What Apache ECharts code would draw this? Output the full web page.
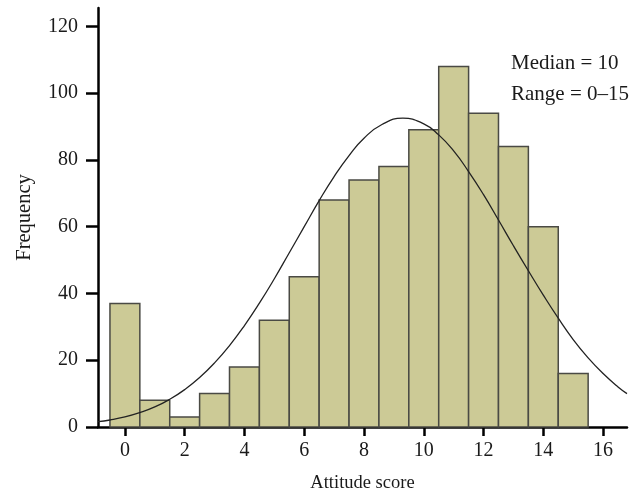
<!DOCTYPE html>
<html>
<head>
<meta charset="utf-8">
<script src="https://cdn.jsdelivr.net/npm/echarts@6/dist/echarts.min.js"></script>
<style>html,body{margin:0;padding:0;background:#fff}#c{width:640px;height:494px}</style>
</head>
<body>
<div id="c"></div>
<script>
// Histogram bins (attitude score) and frequencies
const scores = [0, 1, 2, 3, 4, 5, 6, 7, 8, 9, 10, 11, 12, 13, 14, 15];
const frequencies = [37, 8, 3, 10, 18, 32, 45, 68, 74, 78, 89, 108, 94, 84, 60, 16];
// Normal curve points
const curveX = [-0.9, -0.5, 0, 0.5, 1, 1.5, 2, 2.5, 3, 3.5, 4, 4.5, 5, 5.5, 6, 6.5, 7, 7.5, 8, 8.6, 9.3, 10, 10.5, 11, 11.5, 12, 12.5, 13, 13.5, 14, 14.5, 15, 15.5, 16, 16.5, 16.8];
const curveY = [1.6, 2.1, 3.0, 4.3, 6.0, 8.3, 11.2, 14.8, 19.2, 24.4, 30.4, 37.1, 44.4, 52.2, 60.0, 67.8, 75.0, 81.3, 86.5, 90.6, 92.5, 90.8, 87.5, 82.7, 76.5, 69.6, 62.0, 54.3, 46.8, 39.5, 32.6, 26.2, 20.7, 16.0, 12.0, 10.0];
const xTicks = [0, 2, 4, 6, 8, 10, 12, 14, 16];
const yTicks = [0, 20, 40, 60, 80, 100, 120];
const annotations = ['Median = 10', 'Range = 0\u201315'];

const font = '"Liberation Serif", "DejaVu Serif", serif';
const chart = echarts.init(document.getElementById('c'), null, {renderer: 'canvas'});
const barData = scores.map((s, i) => [s, frequencies[i]]);
const lineData = curveX.map((x, i) => [x, curveY[i]]);

chart.setOption({
  animation: false,
  backgroundColor: '#fff',
  grid: {left: 98, right: 13, top: 8, bottom: 67, containLabel: false, outerBoundsMode: 'none'},
  xAxis: {
    type: 'value', min: -0.9, max: 16.8,
    name: 'Attitude score', nameLocation: 'middle', nameGap: 47, nameMoveOverlap: false,
    nameTextStyle: {fontFamily: font, fontSize: 18.5, color: '#1a1a1a'},
    axisLine: {show: true, onZero: false, lineStyle: {color: '#000', width: 2.5}},
    axisTick: {show: true, length: 9, lineStyle: {color: '#000', width: 2.5}, customValues: xTicks},
    axisLabel: {fontFamily: font, fontSize: 20, color: '#1a1a1a', margin: 14, customValues: xTicks},
    splitLine: {show: false}
  },
  yAxis: {
    type: 'value', min: 0, max: 125.5,
    name: 'Frequency', nameLocation: 'middle', nameGap: 63, nameMoveOverlap: false,
    nameTextStyle: {fontFamily: font, fontSize: 20.5, color: '#1a1a1a'},
    axisLine: {show: true, onZero: false, lineStyle: {color: '#000', width: 2.5}},
    axisTick: {show: true, length: 12, lineStyle: {color: '#000', width: 2.5}, customValues: yTicks},
    axisLabel: {fontFamily: font, fontSize: 20, color: '#1a1a1a', margin: 20, customValues: yTicks},
    splitLine: {show: false}
  },
  graphic: annotations.map((t, i) => ({
    type: 'text', left: 511, top: 53 + i * 31,
    style: {text: t, font: '21px ' + font, fill: '#1a1a1a'}
  })),
  series: [
    {
      type: 'custom',
      data: barData,
      renderItem: function (params, api) {
        const x = api.value(0), y = api.value(1);
        const p0 = api.coord([x - 0.5, y]);
        const p1 = api.coord([x + 0.5, 0]);
        return {
          type: 'rect',
          shape: {x: p0[0], y: p0[1], width: p1[0] - p0[0], height: p1[1] - p0[1]},
          style: {fill: '#CCCA96', stroke: '#4a4a44', lineWidth: 1.5}
        };
      },
      z: 2
    },
    {
      type: 'line',
      data: lineData,
      smooth: true,
      showSymbol: false,
      lineStyle: {color: '#222', width: 1.3},
      z: 3
    }
  ]
});
</script>
</body>
</html>
